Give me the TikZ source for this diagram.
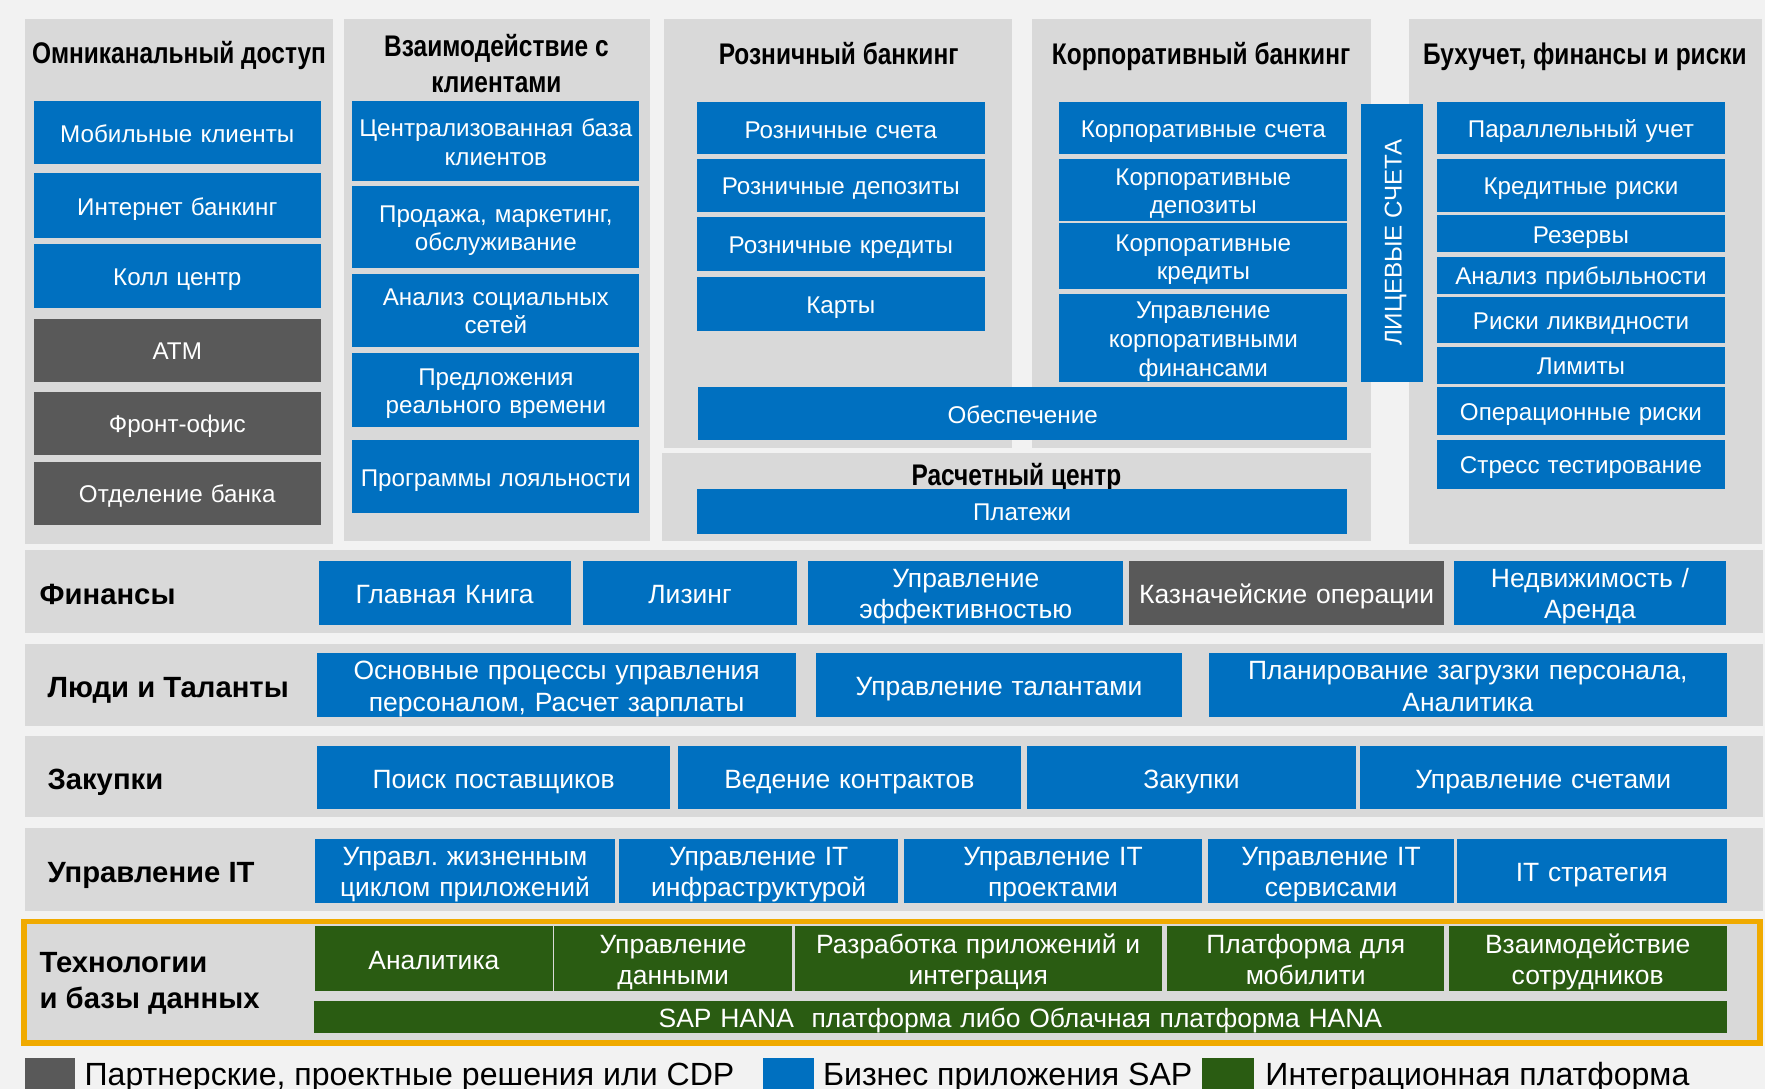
\documentclass[tikz,border=0pt]{standalone}
\usepackage{fontspec}
\setmainfont{Liberation Sans}
\newfontfamily\nfont[FakeStretch=0.82]{Liberation Sans}
\frenchspacing
\definecolor{bgc}{HTML}{F2F2F2}
\definecolor{pnl}{HTML}{D9D9D9}
\definecolor{sapblue}{HTML}{0070C0}
\definecolor{dgray}{HTML}{595959}
\definecolor{dgreen}{HTML}{2A5C12}
\definecolor{gold}{HTML}{F0AA00}
\tikzset{
 pp/.style={execute at begin node={\rule{0pt}{1em}},execute at end node={\rule[-0.2em]{0pt}{0pt}}},
 panel/.style={fill=pnl,draw=none,inner sep=0pt},
 cell/.style={pp,fill=sapblue,text=white,inner sep=0pt,align=center,font=\fontsize{21.5}{25}\selectfont},
 gcell/.style={cell,fill=dgray},
 rowcell/.style={cell,font=\fontsize{23.5}{28}\selectfont},
 graycellrow/.style={rowcell,fill=dgray},
 tcell/.style={rowcell,fill=dgreen},
 ttl/.style={pp,font=\nfont\bfseries\fontsize{26.5}{31}\selectfont,align=center,inner sep=0pt},
 rowlbl/.style={pp,font=\bfseries\fontsize{26}{32}\selectfont,anchor=west,align=left,inner sep=0pt},
 legtxt/.style={pp,font=\fontsize{28.5}{30}\selectfont,anchor=west,inner sep=0pt},
 legsq/.style={inner sep=0pt,draw=none},
}
\newcommand\cbox[7][cell]{%
 \pgfmathsetmacro\bw{(#5)-(#3)}\pgfmathsetmacro\bh{(#6)-(#4)}%
 \pgfmathsetmacro\bxc{((#3)+(#5))/2}\pgfmathsetmacro\byc{((#4)+(#6))/2}%
 \pgfmathsetmacro\btw{\bw-6}%
 \node[#1,minimum width=\bw pt,minimum height=\bh pt,text width=\btw pt] (#2) at (\bxc,\byc) {#7};}
\begin{document}
\begin{tikzpicture}[x=1pt,y=-1pt]
\useasboundingbox (0,0) rectangle (1568,967);
\fill[bgc] (0,0) rectangle (1568,967);
\clip (0,0) rectangle (1568,967);
% top panels
\cbox[panel]{p1}{22}{17}{296}{483}{}
\cbox[panel]{p2}{306}{17}{577}{481}{}
\cbox[panel]{p3}{590}{17}{899}{398}{}
\cbox[panel]{p4}{917}{17}{1218}{398}{}
\cbox[panel]{p6}{588}{402}{1218}{481}{}
\cbox[panel]{p5}{1252}{17}{1565}{483}{}
% titles
\node[ttl] (t1) at (159,45.5) {Омниканальный доступ};
\node[ttl,font=\nfont\bfseries\fontsize{26.5}{31.5}\selectfont] (t2) at (441,59) {Взаимодействие с\\клиентами};
\node[ttl] (t3) at (745,46.5) {Розничный банкинг};
\node[ttl] (t4) at (1067,47) {Корпоративный банкинг};
\node[ttl] (t5) at (1408,47) {Бухучет, финансы и риски};
\node[ttl] (t6) at (903,421) {Расчетный центр};
% panel 1
\cbox{mob}{30}{90}{285}{146}{Мобильные клиенты}
\cbox{inet}{30}{154}{285}{211}{Интернет банкинг}
\cbox{call}{30}{217}{285}{274}{Колл центр}
\cbox[gcell]{atm}{30}{283}{285}{339}{ATM}
\cbox[gcell]{front}{30}{348}{285}{404}{Фронт-офис}
\cbox[gcell]{branch}{30}{410}{285}{466}{Отделение банка}
% panel 2
\cbox{crm}{313}{90}{568}{161}{Централизованная база\\клиентов}
\cbox{sales}{313}{165}{568}{238}{Продажа, маркетинг,\\обслуживание}
\cbox{social}{313}{243}{568}{308}{Анализ социальных\\сетей}
\cbox{rt}{313}{314}{568}{379}{Предложения\\реального времени}
\cbox{loyal}{313}{391}{568}{456}{Программы лояльности}
% retail
\cbox{ra}{619}{91}{875}{137}{Розничные счета}
\cbox{rd}{619}{141}{875}{188}{Розничные депозиты}
\cbox{rc}{619}{193}{875}{241}{Розничные кредиты}
\cbox{cards}{619}{246}{875}{294}{Карты}
% corporate
\cbox{ca}{941}{91}{1197}{137}{Корпоративные счета}
\cbox{cd}{941}{141}{1197}{196}{Корпоративные\\депозиты}
\cbox{cc}{941}{198}{1197}{257}{Корпоративные\\кредиты}
\cbox[cell,font=\fontsize{21.5}{26}\selectfont]{cf}{941}{262}{1197}{338}{Управление\\корпоративными\\финансами}
\cbox{collat}{620}{344}{1197}{391}{Обеспечение}
\cbox{pay}{619}{434}{1197}{474}{Платежи}
\node[cell,rotate=90,minimum width=247pt,minimum height=55pt] (lic) at (1236.5,215.5) {ЛИЦЕВЫЕ СЧЕТА};
% accounting
\cbox{par}{1277}{91}{1532}{137}{Параллельный учет}
\cbox{cr}{1277}{141}{1532}{188}{Кредитные риски}
\cbox{res}{1277}{191}{1532}{224}{Резервы}
\cbox{prof}{1277}{228}{1532}{261}{Анализ прибыльности}
\cbox{liq}{1277}{264}{1532}{305}{Риски ликвидности}
\cbox{lim}{1277}{308}{1532}{341}{Лимиты}
\cbox{op}{1277}{344}{1532}{386}{Операционные риски}
\cbox{st}{1277}{391}{1532}{434}{Стресс тестирование}
% rows
\cbox[panel]{r1}{22}{489}{1566}{562}{}
\cbox[panel]{r2}{22}{572}{1566}{645}{}
\cbox[panel]{r3}{22}{654}{1566}{726}{}
\cbox[panel]{r4}{22}{736}{1566}{809}{}
\node[rowlbl] (l1) at (35,527) {Финансы};
\node[rowlbl] (l2) at (42,609) {Люди и Таланты};
\node[rowlbl] (l3) at (42,691.5) {Закупки};
\node[rowlbl] (l4) at (42,774) {Управление IT};
\cbox[rowcell]{gl}{283}{498}{507}{555}{Главная Книга}
\cbox[rowcell]{lease}{518}{498}{708}{555}{Лизинг}
\cbox[rowcell]{perf}{718}{498}{998}{555}{Управление\\эффективностью}
\cbox[graycellrow]{treas}{1003}{498}{1283}{555}{Казначейские операции}
\cbox[rowcell]{realty}{1292}{498}{1533}{555}{Недвижимость /\\Аренда}
\cbox[rowcell]{hr}{282}{580}{707}{637}{Основные процессы управления\\персоналом, Расчет зарплаты}
\cbox[rowcell]{talent}{725}{580}{1050}{637}{Управление талантами}
\cbox[rowcell]{wfp}{1074}{580}{1534}{637}{Планирование загрузки персонала,\\Аналитика}
\cbox[rowcell]{src}{282}{663}{595}{719}{Поиск поставщиков}
\cbox[rowcell]{contr}{602}{663}{907}{719}{Ведение контрактов}
\cbox[rowcell]{proc}{912}{663}{1205}{719}{Закупки}
\cbox[rowcell]{inv}{1208}{663}{1534}{719}{Управление счетами}
\cbox[rowcell]{alm}{280}{745}{546}{802}{Управл. жизненным\\циклом приложений}
\cbox[rowcell]{infra}{550}{745}{798}{802}{Управление IT\\инфраструктурой}
\cbox[rowcell]{proj}{803}{745}{1068}{802}{Управление IT\\проектами}
\cbox[rowcell]{svc}{1073}{745}{1292}{802}{Управление IT\\сервисами}
\cbox[rowcell]{strat}{1294}{745}{1534}{802}{IT стратегия}
% technology
\node[draw=gold,fill=pnl,line width=5pt,inner sep=0pt,minimum width=1542pt,minimum height=108pt] (tech) at (792.5,872.5) {};
\node[rowlbl] (l5) at (35,874) {Технологии\\и базы данных};
\cbox[tcell]{an}{280}{823}{491}{880}{Аналитика}
\cbox[tcell]{dm}{492}{823}{704}{880}{Управление\\данными}
\cbox[tcell]{dev}{706}{823}{1032}{880}{Разработка приложений и\\интеграция}
\cbox[tcell]{mobp}{1037}{823}{1283}{880}{Платформа для\\мобилити}
\cbox[tcell]{collab}{1287}{823}{1534}{880}{Взаимодействие\\сотрудников}
\cbox[tcell]{hana}{279}{890}{1534}{916.5}{SAP HANA\ \ платформа либо Облачная платформа HANA}
% legend
\cbox[legsq,fill=dgray]{sq1}{22}{940}{67}{980}{}
\node[legtxt] (lt1) at (75,953) {Партнерские, проектные решения или CDP};
\cbox[legsq,fill=sapblue]{sq2}{678}{940}{723}{980}{}
\node[legtxt] (lt2) at (731,953) {Бизнес приложения SAP};
\cbox[legsq,fill=dgreen]{sq3}{1068}{940}{1114}{980}{}
\node[legtxt] (lt3) at (1124,953) {Интеграционная платформа};
\end{tikzpicture}
\end{document}
